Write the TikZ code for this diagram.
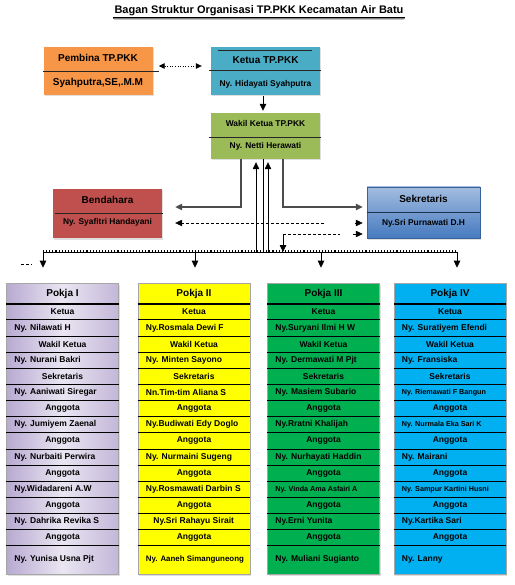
\documentclass[tikz,border=0pt]{standalone}
\usepackage{fontspec}
\setmainfont{Liberation Sans}
\usetikzlibrary{arrows.meta, calc, shadows, decorations.pathmorphing}
\definecolor{pembinaorg}{RGB}{247,150, 70}
\definecolor{ketuablue} {RGB}{ 75,172,198}
\definecolor{wakilgrn}  {RGB}{155,187, 89}
\definecolor{bendred}   {RGB}{192, 80, 77}
\definecolor{sekblue}   {RGB}{ 70,122,192}
\definecolor{pokjalav}  {RGB}{184,170,210}
\definecolor{pokjayel}  {RGB}{255,255,  0}
\definecolor{pokjagrn}  {RGB}{  0,176, 80}
\definecolor{pokjacyan} {RGB}{  0,176,240}
\tikzset{
  soft shadow/.style = {drop shadow={opacity=0.25, shadow xshift=1pt, shadow yshift=-1.5pt}},
  topbox/.style      = {rectangle, inner sep=0pt, minimum width=109pt, minimum height=48pt, soft shadow},
  pokja col/.style   = {rectangle, inner sep=0pt, minimum width=112pt, minimum height=291pt,
                        draw=black!35, line width=0.6pt, soft shadow},
  title text/.style  = {font=\fontsize{11}{13}\selectfont\bfseries, inner sep=1pt},
  head text/.style   = {font=\fontsize{10}{12}\selectfont\bfseries, inner sep=0pt},
  box name/.style    = {font=\fontsize{8.4}{10}\selectfont\bfseries, inner sep=0pt},
  role text/.style   = {font=\fontsize{8.5}{10}\selectfont\bfseries, inner sep=0pt},
  name text/.style   = {font=\fontsize{8.5}{10}\selectfont\bfseries, inner sep=0pt, anchor=west},
  small name/.style  = {name text, font=\fontsize{7.2}{9}\selectfont\bfseries},
  long name/.style   = {name text, font=\fontsize{7.9}{9}\selectfont\bfseries},
  mid name/.style    = {name text, anchor=center, xshift=48pt},
  div line/.style    = {black!85, line width=0.8pt},
  row line/.style    = {black, line width=0.7pt},
  tip/.style         = {-{Triangle[length=7pt,width=6.5pt]}},
  link/.style        = {black!70, line width=1.1pt, tip},
  thin link/.style   = {black, line width=0.6pt},
  dash link/.style   = {black, line width=0.5pt, densely dashed},
  bus line/.style    = {black, line width=0.6pt},
}

\begin{document}
\begin{tikzpicture}[x=1pt, y=-1pt]
  \useasboundingbox (0,0) rectangle (514,585);

  % title
  \node[title text] (title) at (259,11) {Bagan Struktur Organisasi TP.PKK Kecamatan Air Batu};
  \draw[line width=0.5pt] (title.south west) -- (title.south east);
  \draw[line width=0.4pt, decorate, decoration={snake, amplitude=0.5pt, segment length=2pt}]
    ($(title.south west)+(0,1.5)$) -- ($(title.south east)+(0,1.5)$);

  % top boxes
  \node[topbox, fill=pembinaorg] (pembina) at (98,71) {};
  \node[head text] (pembina-t) at ($(pembina)+(0,-13)$) {Pembina TP.PKK};
  \node[head text] (pembina-n) at ($(pembina)+(0,12)$) {Syahputra,SE,.M.M};
  \draw[div line] (pembina.west) -- ($(pembina.east)+(6,0)$);

  \node[topbox, fill=ketuablue] (ketua) at (265.5,71) {};
  \node[head text] (ketua-t) at ($(ketua)+(0,-11)$) {Ketua TP.PKK};
  \node[box name] (ketua-n) at ($(ketua)+(0,13)$) {Ny. Hidayati Syahputra};
  \draw[div line] ($(ketua.west)+(-2,-1)$) -- ($(ketua.east)+(1,-1)$);
  \draw[div line] ($(ketua.north west)+(7,4)$) -- ($(ketua.north east)+(-8,4)$);

  \node[topbox, fill=wakilgrn, minimum height=46pt] (wakil) at (265.5,136) {};
  \node[box name] (wakil-t) at ($(wakil)+(0,-13)$) {Wakil Ketua TP.PKK};
  \node[box name] (wakil-n) at ($(wakil)+(0,10)$) {Ny. Netti Herawati};
  \draw[div line] ($(wakil.west)+(-2,1)$) -- ($(wakil.east)+(1,1)$);

  \node[topbox, fill=bendred, minimum height=49pt] (bendahara) at (107.5,213.5) {};
  \node[head text] (bendahara-t) at ($(bendahara)+(0,-13.5)$) {Bendahara};
  \node[box name] (bendahara-n) at ($(bendahara)+(0,9)$) {Ny. Syafitri Handayani};
  \draw[div line] ($(bendahara.west)+(2,0)$) -- ($(bendahara.east)+(1,0)$);

  \node[topbox, top color=sekblue!50!white, bottom color=sekblue, minimum width=113pt,
        minimum height=51pt, draw=sekblue!80!black, line width=0.5pt] (sekretaris) at (423.5,212.5) {};
  \node[head text] (sekretaris-t) at ($(sekretaris)+(0,-13.5)$) {Sekretaris};
  \node[box name] (sekretaris-n) at ($(sekretaris)+(0,11)$) {Ny.Sri Purnawati D.H};
  \draw[sekblue!40!black, line width=0.9pt] (sekretaris.west) -- (sekretaris.east);

  % links at the top
  \draw[thin link, dotted, line width=0.8pt, {Triangle[length=6pt,width=5.5pt]}-{Triangle[length=6pt,width=5.5pt]}]
    ($(pembina.east)+(6,-5)$) -- ($(ketua.west)+(-9,-5)$);
  \draw[thin link, line width=0.7pt, tip] ($(ketua.south)+(-2.5,1)$) -- ($(wakil.north)+(-2.5,-2)$);

  % links from wakil
  \draw[link] ($(wakil.south)+(-24.5,0)$) |- ($(bendahara.east)+(13,-6.5)$);
  \draw[link] ($(wakil.south)+(17.5,0)$) |- ($(sekretaris.west)+(-4,-5.5)$);
  \coordinate (dash-a) at (324,223);
  \draw[dash link, tip] (dash-a) -- ($(bendahara.east)+(13,9.5)$);
  \draw[thin link, tip] ($(sekretaris.west)+(-12,10.5)$) -- ($(sekretaris.west)+(-4,10.5)$);

  % bus to the pokja
  \coordinate (bus-w) at (43,252);
  \coordinate (bus-e) at (457,252);
  \draw[bus line] (bus-w) -- (bus-e);
  \draw[black, line width=1.1pt, dotted] ($(bus-w)+(0,-1)$) -- ($(bus-e)+(0,-1)$);

  \coordinate (up-a) at ($(wakil.south)+(-9.5,3)$);
  \coordinate (up-b) at ($(wakil.south)+(-2.5,0)$);
  \coordinate (up-c) at ($(wakil.south)+(2.5,3)$);
  \draw[thin link, tip] (bus-w -| up-a) -- (up-a);
  \draw[thin link] (bus-w -| up-b) -- (up-b);
  \draw[thin link, tip] (bus-w -| up-c) -- (up-c);

  \coordinate (drop) at ($(wakil.south)+(17.5,75)$);
  \draw[dash link] (drop) -- ++(57,0);
  \draw[thin link, tip] ($(sekretaris.west)+(-14,21.5)$) -- ($(sekretaris.west)+(-4,21.5)$);
  \draw[thin link, line width=0.8pt, tip] (drop) -- (drop |- bus-w);
  \draw[dash link] (21,264) -- (32,264);

  % pokja columns
  \node[pokja col, left color=pokjalav, right color=pokjalav!85, middle color=pokjalav!30] (p1) at (62.5,428.5) {};
  \node[pokja col, fill=pokjayel] (p2) at (194,428.5) {};
  \node[pokja col, fill=pokjagrn] (p3) at (323.5,428.5) {};
  \node[pokja col, fill=pokjacyan] (p4) at (450,428.5) {};

  \foreach \p/\x in {p1/43, p2/195, p3/321, p4/457}{
    \coordinate (tap-\p) at (\x,252);
    \draw[thin link, line width=0.8pt, tip, shorten >=15pt] (tap-\p) -- (tap-\p |- \p.north);
  }

  \foreach \p/\hd/\names in {
    p1/{Pokja I}/{name text/Ny. Nilawati H, name text/Ny. Nurani Bakri,
      name text/Ny. Aaniwati Siregar, name text/Ny. Jumiyem Zaenal,
      name text/Ny. Nurbaiti Perwira, name text/Ny.Widadareni A.W,
      name text/Ny. Dahrika Revika S, name text/Ny. Yunisa Usna Pjt},
    p2/{Pokja II}/{name text/Ny.Rosmala Dewi F, name text/Ny. Minten Sayono,
      name text/Nn.Tim-tim Aliana S, name text/Ny.Budiwati Edy Doglo,
      name text/Ny. Nurmaini Sugeng, name text/Ny.Rosmawati Darbin S,
      mid name/Ny.Sri Rahayu Sirait, long name/Ny. Aaneh Simanguneong},
    p3/{Pokja III}/{name text/Ny.Suryani Ilmi H W, name text/Ny. Dermawati M Pjt,
      name text/Ny. Masiem Subario, name text/Ny.Rratni Khalijah,
      name text/Ny. Nurhayati Haddin, small name/Ny. Vinda Ama Asfairi A,
      name text/Ny.Erni Yunita, name text/Ny. Muliani Sugianto},
    p4/{Pokja IV}/{name text/Ny. Suratiyem Efendi, name text/Ny. Fransiska,
      small name/Ny. Riemawati F Bangun, small name/Ny. Nurmala Eka Sari  K,
      name text/Ny. Mairani, small name/Ny. Sampur Kartini Husni,
      name text/Ny.Kartika Sari, name text/Ny. Lanny}}{
    \node[head text] (\p-hd) at ($(\p.north)+(0,11)$) {\hd};
    \draw[black, line width=1.8pt] ($(\p.north west)+(0,21)$) -- ($(\p.north east)+(0,21)$);
    % row lines
    \foreach \k in {1,...,15}{
      \pgfmathsetmacro{\ly}{21+16.13*\k}
      \draw[row line] ($(\p.north west)+(0,\ly)$) -- ($(\p.north east)+(0,\ly)$);
    }
    % roles
    \foreach \role [count=\i] in {Ketua, Wakil Ketua, Sekretaris, Anggota, Anggota, Anggota, Anggota, Anggota}{
      \pgfmathsetmacro{\ry}{21+16.13*(2*\i-1.5)}
      \node[role text] (\p-role-\i) at ($(\p.north)+(0,\ry)$) {\role};
    }
    % names
    \foreach \st/\who [count=\i] in \names{
      \pgfmathsetmacro{\ny}{\i<8 ? 21+16.13*(2*\i-0.5) : 277}
      \node[\st] (\p-name-\i) at ($(\p.north west)+(8,\ny)$) {\who};
    }
  }

\end{tikzpicture}
\end{document}
